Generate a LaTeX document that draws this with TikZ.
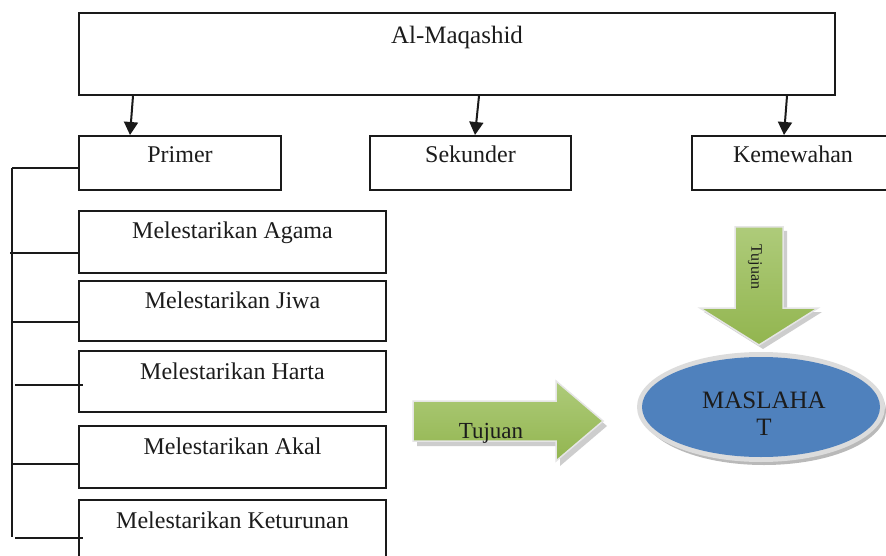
\documentclass[tikz,border=0pt]{standalone}
\usepackage{fontspec}
\setmainfont{Liberation Serif}
\usetikzlibrary{shapes.geometric,arrows.meta,calc}

\definecolor{boxline}{HTML}{1A1A1A}
\definecolor{arrgreen}{HTML}{92B54F}
\definecolor{arrgreenlight}{HTML}{AECB7A}
\definecolor{ellblue}{HTML}{4F81BD}
\definecolor{rim}{HTML}{DCDCDC}
\definecolor{txt}{HTML}{1C1C1C}

\begin{document}
\begin{tikzpicture}[x=1pt,y=-1pt,
  box/.style={draw=boxline, line width=2pt, rectangle, inner sep=0pt,
    anchor=north west, text=txt, font=\fontsize{24}{28}\selectfont},
  conn/.style={line width=2pt, draw=boxline},
  arr/.style={conn, -{Triangle[width=14pt,length=13pt]}},
  bigarrow/.style={top color=arrgreenlight, bottom color=arrgreen,
    draw=white!80!gray, line width=1.5pt},
  arrshadow/.style={fill=gray!55, opacity=0.7},
  lbl/.style={text=txt, inner sep=0pt, anchor=base}
]
\useasboundingbox (0,0) rectangle (886,556);
\clip (0,0) rectangle (886,556);
\fill[white] (0,0) rectangle (886,556);

% top box
\node[box, minimum width=756pt, text height=31pt, text depth=51pt,
  font=\fontsize{25}{28}\selectfont] (top) at (78,12) {Al-Maqashid};

% second level
\node[box, minimum width=202pt, text height=27pt, text depth=27pt] (primer) at (78,135) {Primer};
\node[box, minimum width=201pt, text height=27pt, text depth=27pt] (sekunder) at (369,135) {Sekunder};
\node[box, minimum width=202pt, text height=27pt, text depth=27pt] (kemewahan) at (691,135) {Kemewahan};

% arrows from top
\draw[arr] ($(top.south west)+(55,0)$) -- ($(primer.north west)+(52,0)$);
\draw[arr] ($(top.south west)+(401,0)$) -- ($(sekunder.north west)+(106,0)$);
\draw[arr] ($(top.south west)+(709,0)$) -- ($(kemewahan.north west)+(93,0)$);

% list boxes
\node[box, minimum width=307pt, text height=27pt, text depth=35pt] (agama) at (78,210) {Melestarikan Agama};
\node[box, minimum width=307pt, text height=27pt, text depth=33pt] (jiwa) at (78,280) {Melestarikan Jiwa};
\node[box, minimum width=307pt, text height=28pt, text depth=33pt] (harta) at (78,350) {Melestarikan Harta};
\node[box, minimum width=307pt, text height=28pt, text depth=34pt] (akal) at (78,425) {Melestarikan Akal};
\node[box, minimum width=307pt, text height=28pt, text depth=34pt] (keturunan) at (78,499) {Melestarikan Keturunan};

% trunk
\coordinate (trtop) at (12,168);
\coordinate (trbot) at (12,537);
\draw[conn] (trtop) -- (trbot);
\draw[conn] (trtop) -- (trtop -| primer.west);
\draw[conn] ($(agama.south west)+(-68,-21)$) -- ($(agama.south west)+(0,-21)$);
\draw[conn] ($(jiwa.south west)+(-66,-20)$) -- ($(jiwa.south west)+(0,-20)$);
\draw[conn] ($(harta.south west)+(-63,-28)$) -- ($(harta.south west)+(5,-28)$);
\draw[conn] ($(akal.south west)+(-66,-25)$) -- ($(akal.south west)+(0,-25)$);
\draw[conn] ($(keturunan.south west)+(-63,-25)$) -- ($(keturunan.south west)+(5,-25)$);

% right green arrow
\fill[arrshadow] (417,406) -- (560,406) -- (560,386) -- (607,426) -- (560,466) -- (560,446) -- (417,446) -- cycle;
\path[bigarrow] (413,401) -- (556,401) -- (556,381) -- (603,421) -- (556,461) -- (556,441) -- (413,441) -- cycle;
\node[lbl, font=\fontsize{23}{26}\selectfont] (tujuan1) at (491,438) {Tujuan};

% down green arrow
\fill[arrshadow] (739,231) -- (787,231) -- (787,312) -- (822,312) -- (763,349) -- (704,312) -- (739,312) -- cycle;
\path[bigarrow] (735,227) -- (783,227) -- (783,308) -- (818,308) -- (759,345) -- (700,308) -- (735,308) -- cycle;
\node[text=txt, inner sep=0pt, rotate=-90, font=\fontsize{16}{18}\selectfont] (tujuan2) at (755,267) {Tujuan};

% ellipse
\fill[gray!55] (764,411) ellipse (122 and 54);
\fill[rim] (761,407) ellipse (124 and 55);
\node[ellipse, fill=ellblue, minimum width=238pt, minimum height=100pt, inner sep=0pt] (maslahat) at (761,407) {};
\node[lbl, font=\fontsize{25}{28}\selectfont] (mas1) at (764,408) {MASLAHA};
\node[lbl, font=\fontsize{25}{28}\selectfont] (mas2) at (764,435) {T};
\end{tikzpicture}
\end{document}
